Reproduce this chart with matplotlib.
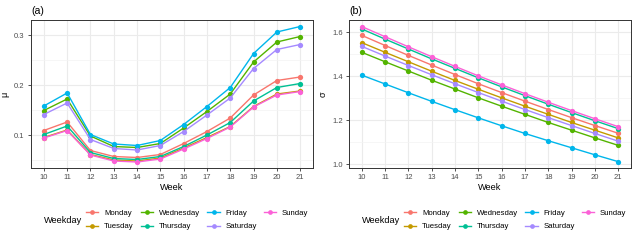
import matplotlib.pyplot as plt
from matplotlib.lines import Line2D

# Dados
semanas = [10, 11, 12, 13, 14, 15, 16, 17, 18, 19, 20, 21]
dias = ["Monday", "Tuesday", "Wednesday", "Thursday", "Friday", "Saturday", "Sunday"]
cores = ["#F8766D", "#C49A00", "#53B400", "#00C094", "#00B6EB", "#A58AFF", "#FB61D7"]

mu_monday = [0.109, 0.126, 0.069, 0.057, 0.055, 0.061, 0.083, 0.107, 0.134, 0.180, 0.209, 0.216]
mu_tuesday = [0.095, 0.110, 0.061, 0.050, 0.048, 0.054, 0.074, 0.095, 0.117, 0.157, 0.182, 0.188]
mu_wednesday = [0.149, 0.172, 0.098, 0.077, 0.075, 0.083, 0.114, 0.147, 0.182, 0.246, 0.286, 0.297]
mu_thursday = [0.101, 0.118, 0.065, 0.053, 0.051, 0.057, 0.077, 0.100, 0.125, 0.168, 0.195, 0.203]
mu_friday = [0.158, 0.184, 0.101, 0.082, 0.079, 0.089, 0.121, 0.157, 0.195, 0.263, 0.306, 0.317]
mu_saturday = [0.141, 0.164, 0.091, 0.073, 0.070, 0.079, 0.107, 0.140, 0.174, 0.233, 0.271, 0.281]
mu_sunday = [0.094, 0.109, 0.060, 0.048, 0.046, 0.052, 0.072, 0.093, 0.116, 0.156, 0.180, 0.187]

sd_monday = [1.586, 1.540, 1.495, 1.451, 1.408, 1.366, 1.326, 1.287, 1.249, 1.212, 1.176, 1.141]
sd_tuesday = [1.553, 1.509, 1.466, 1.423, 1.381, 1.341, 1.302, 1.264, 1.227, 1.190, 1.155, 1.120]
sd_wednesday = [1.509, 1.466, 1.424, 1.382, 1.342, 1.302, 1.264, 1.227, 1.190, 1.155, 1.120, 1.086]
sd_thursday = [1.615, 1.569, 1.524, 1.479, 1.436, 1.393, 1.352, 1.312, 1.273, 1.235, 1.198, 1.162]
sd_friday = [1.405, 1.365, 1.325, 1.286, 1.248, 1.211, 1.175, 1.140, 1.107, 1.075, 1.043, 1.012]
sd_saturday = [1.536, 1.492, 1.449, 1.407, 1.366, 1.326, 1.287, 1.249, 1.212, 1.176, 1.140, 1.105]
sd_sunday = [1.626, 1.580, 1.534, 1.489, 1.445, 1.402, 1.361, 1.321, 1.282, 1.244, 1.207, 1.171]

mu = [mu_monday, mu_tuesday, mu_wednesday, mu_thursday, mu_friday, mu_saturday, mu_sunday]
sd = [sd_monday, sd_tuesday, sd_wednesday, sd_thursday, sd_friday, sd_saturday, sd_sunday]

plt.rcParams['font.family'] = ['Liberation Sans', 'DejaVu Sans']

fig = plt.figure(figsize=(6.37, 2.43), dpi=100)
ax1 = fig.add_axes([31/637, 75/243, 282/637, 148/243])
ax2 = fig.add_axes([349/637, 75/243, 282/637, 148/243])


def painel(ax, series, titulo, ylab, ylim, maj, mnr):
    for s, c in zip(series, cores):
        ax.plot(semanas, s, color=c, lw=1.0, marker="o", ms=3.8, mew=0, zorder=3)
    ax.set_xlim(9.45, 21.55)
    ax.set_ylim(*ylim)
    ax.set_xticks(semanas)
    ax.set_yticks(maj)
    ax.set_yticks(mnr, minor=True)
    ax.grid(True, which="major", color="#EBEBEB", lw=0.8, zorder=0)
    ax.grid(True, which="minor", color="#F3F3F3", lw=0.5, zorder=0)
    ax.tick_params(axis="x", which="minor", bottom=False)
    ax.tick_params(which="major", labelsize=5.5, labelcolor="#4D4D4D", color="#333333",
                   length=2.5, width=0.6, pad=2)
    ax.tick_params(axis="y", which="minor", length=0)
    for sp in ax.spines.values():
        sp.set_color("#333333")
        sp.set_linewidth(0.7)
    ax.set_axisbelow(True)
    ax.set_xlabel("Week", fontsize=6.6, labelpad=1)
    ax.set_ylabel(ylab, fontsize=6.6)
    ax.yaxis.set_label_coords(-0.075, 0.5)
    ax.set_title(titulo, loc="left", fontsize=7.6, pad=4)


painel(ax1, mu, "(a)", "μ", (0.034, 0.33), [0.1, 0.2, 0.3], [0.05, 0.15, 0.25])
painel(ax2, sd, "(b)", "σ", (0.983, 1.656), [1.0, 1.2, 1.4, 1.6], [1.1, 1.3, 1.5])
ax1.yaxis.set_major_formatter(plt.FormatStrFormatter("%.1f"))
ax2.yaxis.set_major_formatter(plt.FormatStrFormatter("%.1f"))

# Legendas
handles = [Line2D([0], [0], color=c, lw=1.0, marker="o", ms=3.4, mew=0) for c in cores]
for x0 in [0, 318]:
    fig.text((x0 + 44)/637, 1 - 220/243, "Weekday", fontsize=6.6, va="center", ha="left")
    fig.legend(handles, dias, loc="center left", bbox_to_anchor=((x0 + 86)/637, 1 - 220/243),
               ncol=4, frameon=False, fontsize=5.6, handlelength=1.6, handletextpad=0.7,
               columnspacing=0.95, labelspacing=0.75, borderaxespad=0, borderpad=0)

fig.savefig("out.png", dpi=100)
